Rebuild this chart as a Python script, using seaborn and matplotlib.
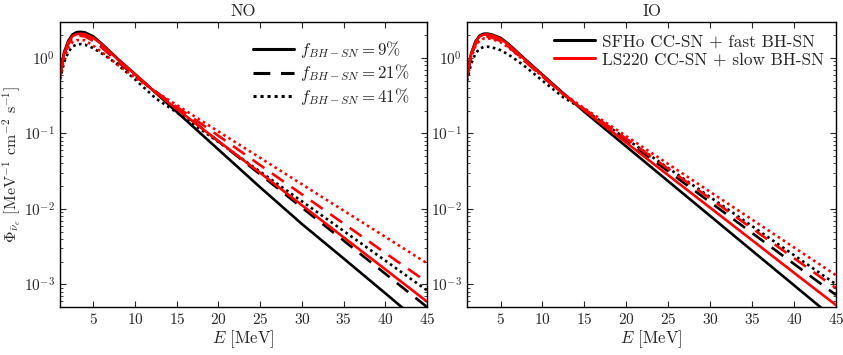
import numpy as np
import pandas as pd
import matplotlib
matplotlib.use("Agg")
import matplotlib.pyplot as plt
import seaborn as sns
from matplotlib.lines import Line2D

sns.set_theme(style="ticks")
plt.rcParams['font.family'] = ['cmr10', 'DejaVu Serif']
plt.rcParams['mathtext.fontset'] = 'cm'
plt.rcParams['axes.unicode_minus'] = False
plt.rcParams['axes.formatter.use_mathtext'] = True

# ---- data ----
E = [1, 1.5, 2, 2.5, 3, 3.5, 4, 5, 6, 7, 8, 10, 12.5, 15, 20, 25, 30, 35, 40, 45]

# NO panel
no_sfho_9  = [0.62, 1.20, 1.70, 2.05, 2.20, 2.22, 2.18, 1.93, 1.55, 1.22, 0.96, 0.61, 0.343, 0.193, 0.061, 0.0193, 6.3e-3, 2.2e-3, 7.6e-4, 2.6e-4]
no_sfho_21 = [0.60, 1.13, 1.58, 1.88, 2.00, 2.02, 1.98, 1.72, 1.40, 1.10, 0.88, 0.58, 0.357, 0.216, 0.0785, 0.0286, 0.0104, 3.8e-3, 1.38e-3, 5.0e-4]
no_sfho_41 = [0.52, 0.88, 1.20, 1.42, 1.51, 1.53, 1.50, 1.35, 1.15, 0.97, 0.80, 0.52, 0.290, 0.190, 0.0769, 0.0311, 0.0126, 5.1e-3, 2.06e-3, 8.3e-4]
no_ls_9    = [0.60, 1.15, 1.62, 1.95, 2.07, 2.10, 2.06, 1.85, 1.52, 1.20, 0.94, 0.61, 0.345, 0.211, 0.079, 0.030, 0.0112, 4.2e-3, 1.58e-3, 5.9e-4]
no_ls_21   = [0.58, 1.10, 1.53, 1.82, 1.94, 1.96, 1.93, 1.68, 1.38, 1.12, 0.90, 0.60, 0.355, 0.225, 0.093, 0.038, 0.0156, 6.4e-3, 2.6e-3, 1.07e-3]
no_ls_41   = [0.55, 1.00, 1.38, 1.62, 1.72, 1.74, 1.71, 1.45, 1.20, 0.98, 0.80, 0.55, 0.355, 0.238, 0.106, 0.0475, 0.0212, 9.5e-3, 4.26e-3, 1.9e-3]

# IO panel
io_sfho_9  = [0.60, 1.15, 1.65, 1.98, 2.10, 2.10, 2.04, 1.85, 1.52, 1.20, 0.95, 0.60, 0.340, 0.193, 0.067, 0.0232, 8.05e-3, 2.79e-3, 9.7e-4, 3.36e-4]
io_sfho_21 = [0.58, 1.10, 1.55, 1.83, 1.94, 1.95, 1.90, 1.72, 1.42, 1.14, 0.90, 0.57, 0.330, 0.207, 0.0807, 0.0314, 0.01225, 4.78e-3, 1.86e-3, 7.2e-4]
io_sfho_41 = [0.50, 0.84, 1.14, 1.33, 1.40, 1.41, 1.38, 1.27, 1.10, 0.92, 0.76, 0.50, 0.300, 0.206, 0.0846, 0.0347, 0.0143, 5.9e-3, 2.43e-3, 1.0e-3]
io_ls_9    = [0.60, 1.13, 1.60, 1.93, 2.04, 2.05, 2.00, 1.80, 1.48, 1.18, 0.93, 0.59, 0.330, 0.203, 0.0753, 0.0279, 0.01035, 3.84e-3, 1.42e-3, 5.3e-4]
io_ls_21   = [0.57, 1.08, 1.50, 1.78, 1.89, 1.90, 1.86, 1.68, 1.40, 1.12, 0.89, 0.57, 0.330, 0.210, 0.0845, 0.034, 0.0137, 5.5e-3, 2.22e-3, 8.9e-4]
io_ls_41   = [0.55, 1.02, 1.42, 1.70, 1.81, 1.82, 1.78, 1.62, 1.36, 1.10, 0.88, 0.57, 0.335, 0.215, 0.0919, 0.0393, 0.0168, 7.2e-3, 3.08e-3, 1.32e-3]

fractions = ['9', '21', '41']
models = ['SFHo CC-SN + fast BH-SN', 'LS220 CC-SN + slow BH-SN']
panels = ['NO', 'IO']
series = {
    ('NO', models[0], '9'): no_sfho_9, ('NO', models[0], '21'): no_sfho_21, ('NO', models[0], '41'): no_sfho_41,
    ('NO', models[1], '9'): no_ls_9,   ('NO', models[1], '21'): no_ls_21,   ('NO', models[1], '41'): no_ls_41,
    ('IO', models[0], '9'): io_sfho_9, ('IO', models[0], '21'): io_sfho_21, ('IO', models[0], '41'): io_sfho_41,
    ('IO', models[1], '9'): io_ls_9,   ('IO', models[1], '21'): io_ls_21,   ('IO', models[1], '41'): io_ls_41,
}
rows = []
for (p, m, f), vals in series.items():
    for e, v in zip(E, vals):
        rows.append(dict(panel=p, model=m, frac=f, E=e, phi=v))
df = pd.DataFrame(rows)

colors = {models[0]: '#000000', models[1]: '#ff0000'}
styles = {'9': '-', '21': (0, (5.5, 3.5)), '41': (0, (1, 1.3))}

fig = plt.figure(figsize=(8.43, 3.55), dpi=100)
axes = [fig.add_axes([60/843, 48/355, 367/843, 285/355]),
        fig.add_axes([467/843, 48/355, 369/843, 285/355])]

for ax, p in zip(axes, panels):
    for m in models:
        for f in fractions:
            sub = df[(df.panel == p) & (df.model == m) & (df.frac == f)]
            sns.lineplot(data=sub, x='E', y='phi', ax=ax, color=colors[m],
                         linestyle=styles[f], linewidth=1.9, legend=False)
    ax.set_yscale('log')
    ax.set_xlim(1, 45)
    ax.set_ylim(5e-4, 3)
    ax.set_xticks([5, 10, 15, 20, 25, 30, 35, 40, 45])
    ax.set_yticks([1e-3, 1e-2, 1e-1, 1e0])
    ax.tick_params(which='both', direction='in', top=True, right=True, labelsize=11)
    ax.tick_params(which='major', length=4, width=0.8)
    ax.tick_params(which='minor', length=2.2, width=0.6)
    ax.set_xlabel(r'$E$ [MeV]', fontsize=12, labelpad=1)
    ax.set_ylabel('')
    ax.set_title(p, fontsize=12, pad=4)
    for s in ax.spines.values():
        s.set_linewidth(1.0)
        s.set_color('black')

axes[0].set_ylabel(r'$\Phi_{\bar{\nu}_e}$ [MeV$^{-1}$ cm$^{-2}$ s$^{-1}$]', fontsize=11.5, labelpad=0)

h1 = [Line2D([], [], color='black', linestyle=styles[f], linewidth=2.2) for f in fractions]
l1 = [r'$f_{BH-SN}=9\%$', r'$f_{BH-SN}=21\%$', r'$f_{BH-SN}=41\%$']
axes[0].legend(h1, l1, loc='upper right', frameon=False, fontsize=12.2,
               handlelength=2.4, handletextpad=0.4, labelspacing=0.15, borderaxespad=0.6)

h2 = [Line2D([], [], color=colors[m], linestyle='-', linewidth=2.2) for m in models]
axes[1].legend(h2, models, loc='upper right', frameon=False, fontsize=12.4,
               handlelength=2.4, handletextpad=0.4, labelspacing=0.15, borderaxespad=0.3)

fig.savefig('out.png', dpi=100)
